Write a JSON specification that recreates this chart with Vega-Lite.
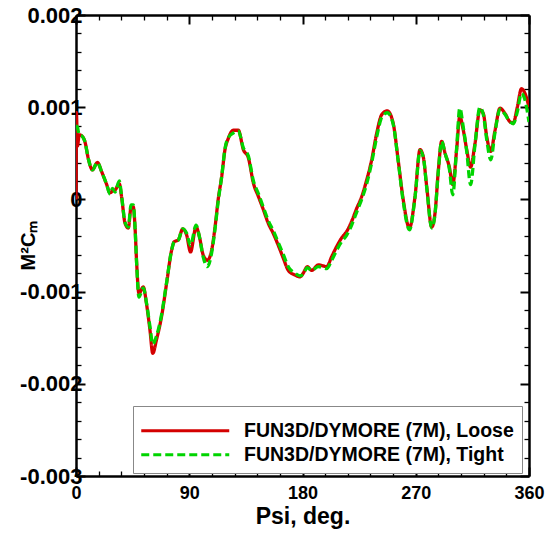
{
  "$schema": "https://vega.github.io/schema/vega-lite/v6.json",
  "autosize": "none",
  "width": 453,
  "height": 461,
  "padding": {"left": 76, "top": 15, "right": 26, "bottom": 58},
  "background": "white",
  "datasets": {
    "loose": [
      {"psi": 0, "cm": 0}, {"psi": 0.3, "cm": 0.00094}, {"psi": 1.2, "cm": 0.00058}, {"psi": 2.5, "cm": 0.0007},
      {"psi": 4.5, "cm": 0.00069}, {"psi": 7, "cm": 0.00063}, {"psi": 10, "cm": 0.00043}, {"psi": 13, "cm": 0.00032},
      {"psi": 17, "cm": 0.0004}, {"psi": 20.4, "cm": 0.0003}, {"psi": 24.4, "cm": 0.00016}, {"psi": 27, "cm": 0.00007},
      {"psi": 29, "cm": 0.00009}, {"psi": 31, "cm": 0.0001}, {"psi": 34.4, "cm": 0.00017}, {"psi": 36.3, "cm": 0.00002},
      {"psi": 39, "cm": -0.00026}, {"psi": 41.6, "cm": -0.00031}, {"psi": 43.7, "cm": -0.00009}, {"psi": 45.5, "cm": -0.00008},
      {"psi": 46.9, "cm": -0.0003}, {"psi": 48.2, "cm": -0.00069}, {"psi": 50, "cm": -0.00102}, {"psi": 53.5, "cm": -0.00095},
      {"psi": 56, "cm": -0.00113}, {"psi": 58.8, "cm": -0.00142}, {"psi": 61, "cm": -0.00167}, {"psi": 64, "cm": -0.00152},
      {"psi": 68, "cm": -0.00127}, {"psi": 72, "cm": -0.00091}, {"psi": 76, "cm": -0.00055}, {"psi": 78, "cm": -0.00046},
      {"psi": 81.3, "cm": -0.00044}, {"psi": 84.8, "cm": -0.00032}, {"psi": 88, "cm": -0.00039}, {"psi": 91, "cm": -0.00057},
      {"psi": 95.4, "cm": -0.0003}, {"psi": 98, "cm": -0.0004}, {"psi": 101, "cm": -0.0006}, {"psi": 104.4, "cm": -0.00066},
      {"psi": 107.8, "cm": -0.00055}, {"psi": 110.5, "cm": -0.0003}, {"psi": 113, "cm": 0.0}, {"psi": 115.8, "cm": 0.00025},
      {"psi": 118.4, "cm": 0.00054}, {"psi": 121, "cm": 0.00066}, {"psi": 125, "cm": 0.00075}, {"psi": 129, "cm": 0.00075},
      {"psi": 133, "cm": 0.00054}, {"psi": 137, "cm": 0.00045}, {"psi": 141, "cm": 0.000175}, {"psi": 145, "cm": 0.00003},
      {"psi": 149, "cm": -0.000115}, {"psi": 152.8, "cm": -0.00026}, {"psi": 156.8, "cm": -0.00037}, {"psi": 160.8, "cm": -0.0005},
      {"psi": 164.8, "cm": -0.00064}, {"psi": 168.7, "cm": -0.00077}, {"psi": 174, "cm": -0.00082}, {"psi": 178, "cm": -0.00084},
      {"psi": 180.6, "cm": -0.0008}, {"psi": 183.8, "cm": -0.00073}, {"psi": 187.3, "cm": -0.00077}, {"psi": 192.6, "cm": -0.00071},
      {"psi": 196, "cm": -0.00072}, {"psi": 199.2, "cm": -0.00073}, {"psi": 203.2, "cm": -0.00062}, {"psi": 207.2, "cm": -0.00051},
      {"psi": 211, "cm": -0.00042}, {"psi": 215, "cm": -0.00035}, {"psi": 219, "cm": -0.00024}, {"psi": 223, "cm": -0.0001},
      {"psi": 227, "cm": 0.00003}, {"psi": 231, "cm": 0.00021}, {"psi": 235, "cm": 0.00043}, {"psi": 239, "cm": 0.00072},
      {"psi": 243, "cm": 0.00092}, {"psi": 247.4, "cm": 0.00096}, {"psi": 252, "cm": 0.00083}, {"psi": 256, "cm": 0.00043},
      {"psi": 260, "cm": 0.0}, {"psi": 265, "cm": -0.00031}, {"psi": 269.4, "cm": 0.00003}, {"psi": 273.4, "cm": 0.00054},
      {"psi": 276, "cm": 0.00046}, {"psi": 278.7, "cm": 0.00014}, {"psi": 282.7, "cm": -0.0003}, {"psi": 285.3, "cm": -0.00015},
      {"psi": 288, "cm": 0.00032}, {"psi": 290.6, "cm": 0.00063}, {"psi": 293.3, "cm": 0.0005}, {"psi": 296.7, "cm": 0.00035},
      {"psi": 299.4, "cm": 0.00016}, {"psi": 302.5, "cm": 0.00054}, {"psi": 305, "cm": 0.0009}, {"psi": 307.8, "cm": 0.00075},
      {"psi": 310.5, "cm": 0.00054}, {"psi": 313.6, "cm": 0.00035}, {"psi": 317, "cm": 0.0006}, {"psi": 321, "cm": 0.00097},
      {"psi": 323.7, "cm": 0.00093}, {"psi": 326.4, "cm": 0.00068}, {"psi": 329.6, "cm": 0.00052}, {"psi": 333, "cm": 0.00075},
      {"psi": 337, "cm": 0.00099}, {"psi": 341, "cm": 0.00093}, {"psi": 345, "cm": 0.00084}, {"psi": 347.5, "cm": 0.00083},
      {"psi": 350.7, "cm": 0.001}, {"psi": 354, "cm": 0.0012}, {"psi": 356.8, "cm": 0.00115}, {"psi": 360, "cm": 0.001}
    ],
    "tight": [
      {"psi": 0, "cm": 0.0008}, {"psi": 1.2, "cm": 0.00078}, {"psi": 2.5, "cm": 0.0007},
      {"psi": 4.5, "cm": 0.00069}, {"psi": 7, "cm": 0.00063}, {"psi": 10, "cm": 0.00043}, {"psi": 13, "cm": 0.00032},
      {"psi": 17, "cm": 0.0004}, {"psi": 20.4, "cm": 0.0003}, {"psi": 24.4, "cm": 0.00016}, {"psi": 27, "cm": 0.00006},
      {"psi": 29, "cm": 0.00012}, {"psi": 31, "cm": 0.00008}, {"psi": 34.4, "cm": 0.0002}, {"psi": 36.3, "cm": 0.00003},
      {"psi": 39, "cm": -0.00025}, {"psi": 41.6, "cm": -0.0003}, {"psi": 43.7, "cm": -0.00006}, {"psi": 45.5, "cm": -0.00006},
      {"psi": 46.9, "cm": -0.0003}, {"psi": 48.2, "cm": -0.0007}, {"psi": 50, "cm": -0.00106}, {"psi": 53.5, "cm": -0.00096},
      {"psi": 56, "cm": -0.00112}, {"psi": 58.8, "cm": -0.00138}, {"psi": 61, "cm": -0.00157}, {"psi": 64, "cm": -0.00148},
      {"psi": 68, "cm": -0.00125}, {"psi": 72, "cm": -0.0009}, {"psi": 76, "cm": -0.00055}, {"psi": 78, "cm": -0.00046},
      {"psi": 81.3, "cm": -0.00044}, {"psi": 84.8, "cm": -0.00032}, {"psi": 88, "cm": -0.00037}, {"psi": 91, "cm": -0.0005},
      {"psi": 95.4, "cm": -0.00028}, {"psi": 98, "cm": -0.0004}, {"psi": 101, "cm": -0.00062}, {"psi": 104.4, "cm": -0.00073},
      {"psi": 107.8, "cm": -0.00058}, {"psi": 110.5, "cm": -0.00032}, {"psi": 113, "cm": -0.00002}, {"psi": 115.8, "cm": 0.00025},
      {"psi": 118.4, "cm": 0.00055}, {"psi": 121, "cm": 0.00067}, {"psi": 125, "cm": 0.00072}, {"psi": 129, "cm": 0.00074},
      {"psi": 133, "cm": 0.00056}, {"psi": 137, "cm": 0.00047}, {"psi": 141, "cm": 0.0002}, {"psi": 145, "cm": 0.00006},
      {"psi": 149, "cm": -0.00009}, {"psi": 152.8, "cm": -0.00023}, {"psi": 156.8, "cm": -0.00034}, {"psi": 160.8, "cm": -0.00047},
      {"psi": 164.8, "cm": -0.0006}, {"psi": 168.7, "cm": -0.00073}, {"psi": 174, "cm": -0.0008}, {"psi": 178, "cm": -0.00083},
      {"psi": 180.6, "cm": -0.00081}, {"psi": 183.8, "cm": -0.00074}, {"psi": 187.3, "cm": -0.00077}, {"psi": 192.6, "cm": -0.00073},
      {"psi": 196, "cm": -0.00074}, {"psi": 199.2, "cm": -0.00075}, {"psi": 203.2, "cm": -0.00066}, {"psi": 207.2, "cm": -0.00055},
      {"psi": 211, "cm": -0.00046}, {"psi": 215, "cm": -0.00039}, {"psi": 219, "cm": -0.00028}, {"psi": 223, "cm": -0.00014},
      {"psi": 227, "cm": 0.0}, {"psi": 231, "cm": 0.00017}, {"psi": 235, "cm": 0.0004}, {"psi": 239, "cm": 0.00068},
      {"psi": 243, "cm": 0.00089}, {"psi": 247.4, "cm": 0.00094}, {"psi": 252, "cm": 0.00082}, {"psi": 256, "cm": 0.00042},
      {"psi": 260, "cm": -0.00002}, {"psi": 265, "cm": -0.00033}, {"psi": 269.4, "cm": 0.00002}, {"psi": 273.4, "cm": 0.00053},
      {"psi": 276, "cm": 0.00046}, {"psi": 278.7, "cm": 0.00013}, {"psi": 282.7, "cm": -0.00031}, {"psi": 285.3, "cm": -0.00016},
      {"psi": 288, "cm": 0.00032}, {"psi": 290.6, "cm": 0.00063}, {"psi": 293.3, "cm": 0.0005}, {"psi": 296.7, "cm": 0.00033},
      {"psi": 299.4, "cm": 0.00005}, {"psi": 302.5, "cm": 0.00056}, {"psi": 305, "cm": 0.00099}, {"psi": 307.8, "cm": 0.00078},
      {"psi": 310.5, "cm": 0.00052}, {"psi": 313.6, "cm": 0.00016}, {"psi": 317, "cm": 0.00058}, {"psi": 321, "cm": 0.001},
      {"psi": 323.7, "cm": 0.00092}, {"psi": 326.4, "cm": 0.00065}, {"psi": 329.6, "cm": 0.00043}, {"psi": 333, "cm": 0.00073},
      {"psi": 337, "cm": 0.00098}, {"psi": 341, "cm": 0.00092}, {"psi": 345, "cm": 0.00084}, {"psi": 347.5, "cm": 0.00082},
      {"psi": 350.7, "cm": 0.00095}, {"psi": 354, "cm": 0.00115}, {"psi": 356.8, "cm": 0.00108}, {"psi": 360, "cm": 0.00084}
    ]
  },
  "layer": [
    {
      "data": {"name": "loose"},
      "mark": {"type": "line", "strokeWidth": 3.3, "clip": true, "interpolate": "monotone"},
      "encoding": {
        "x": {
          "field": "psi", "type": "quantitative",
          "scale": {"domain": [0, 360], "nice": false, "zero": false},
          "axis": {
            "orient": "bottom", "title": "Psi, deg.",
            "values": [0, 18, 36, 54, 72, 90, 108, 126, 144, 162, 180, 198, 216, 234, 252, 270, 288, 306, 324, 342, 360],
            "labelExpr": "datum.value % 90 === 0 ? datum.label : ''",
            "tickSize": {"condition": {"test": "datum.value % 90 === 0", "value": -9}, "value": -5},
            "tickWidth": {"condition": {"test": "datum.value % 90 === 0", "value": 2}, "value": 1.3},
            "labelFont": "Liberation Sans", "labelFontSize": 18, "labelFontWeight": "bold", "labelColor": "black",
            "titleFont": "Liberation Sans", "titleFontSize": 23, "titleFontWeight": "bold", "titleColor": "black",
            "labelPadding": 17, "titleY": 47, "titleBaseline": "alphabetic"
          }
        },
        "y": {
          "field": "cm", "type": "quantitative",
          "scale": {"domain": [-0.003, 0.002], "nice": false, "zero": false},
          "axis": {
            "orient": "left", "title": "M²Cₘ",
            "values": [-0.003, -0.0028, -0.0026, -0.0024, -0.0022, -0.002, -0.0018, -0.0016, -0.0014, -0.0012, -0.001, -0.0008, -0.0006, -0.0004, -0.0002, 0, 0.0002, 0.0004, 0.0006, 0.0008, 0.001, 0.0012, 0.0014, 0.0016, 0.0018, 0.002],
            "labelExpr": "abs(datum.value*1000 - round(datum.value*1000)) < 1e-6 ? ((datum.value < -1e-9 ? '-' : '') + format(abs(datum.value), '.3~f')) : ''",
            "tickSize": {"condition": {"test": "abs(datum.value*1000 - round(datum.value*1000)) < 1e-6", "value": -9}, "value": -5},
            "tickWidth": {"condition": {"test": "abs(datum.value*1000 - round(datum.value*1000)) < 1e-6", "value": 2}, "value": 1.3},
            "labelFont": "Liberation Sans", "labelFontSize": 22, "labelFontWeight": "bold", "labelColor": "black",
            "titleFont": "Liberation Sans", "titleFontSize": 20, "titleFontWeight": "bold", "titleColor": "black",
            "labelPadding": 3, "titleX": -42, "titleY": 230, "titleAngle": 270, "titleAlign": "center", "titleBaseline": "alphabetic"
          }
        },
        "color": {
          "datum": "FUN3D/DYMORE (7M), Loose", "type": "nominal",
          "scale": {"domain": ["FUN3D/DYMORE (7M), Loose", "FUN3D/DYMORE (7M), Tight"], "range": ["#d40000", "#00d400"]},
          "legend": {"title": " "}
        },
        "strokeDash": {
          "datum": "FUN3D/DYMORE (7M), Loose", "type": "nominal",
          "scale": {"domain": ["FUN3D/DYMORE (7M), Loose", "FUN3D/DYMORE (7M), Tight"], "range": [[1, 0], [8, 4]]},
          "legend": {"title": " "}
        }
      }
    },
    {
      "data": {"name": "tight"},
      "mark": {"type": "line", "strokeWidth": 3.3, "clip": true, "interpolate": "monotone"},
      "encoding": {
        "x": {
          "field": "psi", "type": "quantitative",
          "axis": {
            "orient": "top", "title": null, "labels": false,
            "values": [0, 18, 36, 54, 72, 90, 108, 126, 144, 162, 180, 198, 216, 234, 252, 270, 288, 306, 324, 342, 360],
            "tickSize": {"condition": {"test": "datum.value % 90 === 0", "value": -9}, "value": -5},
            "tickWidth": {"condition": {"test": "datum.value % 90 === 0", "value": 2}, "value": 1.3}
          }
        },
        "y": {
          "field": "cm", "type": "quantitative",
          "axis": {
            "orient": "right", "title": null, "labels": false,
            "values": [-0.003, -0.0028, -0.0026, -0.0024, -0.0022, -0.002, -0.0018, -0.0016, -0.0014, -0.0012, -0.001, -0.0008, -0.0006, -0.0004, -0.0002, 0, 0.0002, 0.0004, 0.0006, 0.0008, 0.001, 0.0012, 0.0014, 0.0016, 0.0018, 0.002],
            "tickSize": {"condition": {"test": "abs(datum.value*1000 - round(datum.value*1000)) < 1e-6", "value": -9}, "value": -5},
            "tickWidth": {"condition": {"test": "abs(datum.value*1000 - round(datum.value*1000)) < 1e-6", "value": 2}, "value": 1.3}
          }
        },
        "color": {"datum": "FUN3D/DYMORE (7M), Tight", "type": "nominal"},
        "strokeDash": {"datum": "FUN3D/DYMORE (7M), Tight", "type": "nominal"}
      }
    }
  ],
  "resolve": {"axis": {"x": "independent", "y": "independent"}},
  "config": {
    "view": {"stroke": null},
    "font": "Liberation Sans",
    "axis": {
      "domainColor": "black", "domainWidth": 2.5, "tickColor": "black", "grid": false,
      "labelFlush": false, "labelOverlap": false, "labelBound": false
    },
    "legend": {
      "orient": "none", "legendX": 57, "legendY": 391,
      "fillColor": "white", "strokeColor": "#888888", "padding": 8,
      "symbolType": "M-5.5,0H5.5", "symbolSize": 256, "symbolStrokeWidth": 3, "symbolOffset": 34.5,
      "labelFont": "Liberation Sans", "labelFontSize": 19.5, "labelFontWeight": "bold", "labelColor": "black",
      "labelOffset": 49, "rowPadding": 3, "labelLimit": 400,
      "titleFontSize": 7, "titlePadding": 0
    }
  }
}
